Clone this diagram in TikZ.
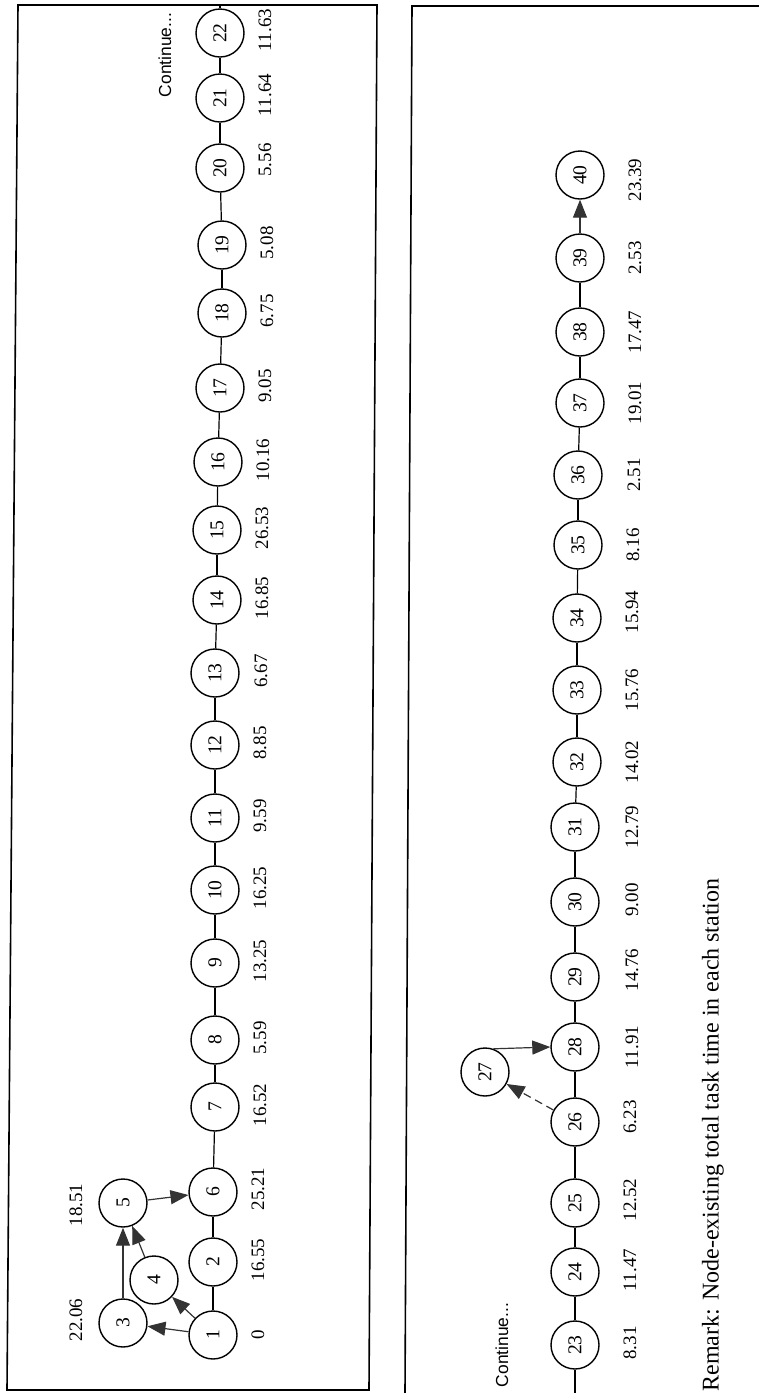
\documentclass[tikz,border=0pt]{standalone}
\usepackage{fontspec}
\setmainfont{Liberation Serif}
\newfontfamily\contfont{Liberation Sans}
\usetikzlibrary{arrows.meta}
\tikzset{
  stn/.style={draw,circle,minimum size=24pt,inner sep=0pt,line width=0.7pt,rotate=90,font=\fontsize{9.8}{11}\selectfont},
  tm/.style={rotate=90,inner sep=0pt,font=\fontsize{9.5}{11}\selectfont},
  link/.style={line width=0.6pt},
  arr/.style={-{Triangle[length=9pt,width=7pt]},line width=0.6pt,black!80},
  dasharr/.style={arr,dash pattern=on 4pt off 2.5pt},
  frame/.style={draw,line width=0.8pt},
  cont/.style={rotate=90,inner sep=0pt,font=\contfont\fontsize{8.7}{10}\selectfont},
  remark/.style={rotate=90,inner sep=0pt,anchor=west,font=\fontsize{12}{14}\selectfont},
}

\begin{document}
\begin{tikzpicture}[x=0.5pt,y=-0.5pt]
  \useasboundingbox (0,0) rectangle (759,1393);

  % frames
  \draw[frame] (18,5) -- (377,5) -- (369,1390) -- (7,1390) -- cycle;
  \draw[frame] (405,1393) -- (412,6) -- (759,6);

  % PANEL 1: stations 1-22
  \node[stn] (n1)  at (213,1335) {1};
  \node[stn] (n2)  at (213,1262) {2};
  \node[stn] (n3)  at (123,1323) {3};
  \node[stn] (n4)  at (154,1280) {4};
  \node[stn] (n5)  at (123,1203) {5};
  \node[stn] (n6)  at (213,1192) {6};
  \node[stn] (n7)  at (215,1107) {7};
  \node[stn] (n8)  at (215,1040) {8};
  \node[stn] (n9)  at (215,963)  {9};
  \node[stn] (n10) at (215,890)  {10};
  \node[stn] (n11) at (215,818)  {11};
  \node[stn] (n12) at (215,745)  {12};
  \node[stn] (n13) at (215,673)  {13};
  \node[stn] (n14) at (217,600)  {14};
  \node[stn] (n15) at (217,530)  {15};
  \node[stn] (n16) at (218,462)  {16};
  \node[stn] (n17) at (220,388)  {17};
  \node[stn] (n18) at (222,313)  {18};
  \node[stn] (n19) at (222,245)  {19};
  \node[stn] (n20) at (220,168)  {20};
  \node[stn] (n21) at (220,98)   {21};
  \node[stn] (n22) at (220,33)   {22};
  \coordinate (top1) at (220,5);

  \node[tm] (t1)  at (258,1335) {0};
  \node[tm] (t2)  at (258,1260) {16.55};
  \node[tm] (t3)  at (76,1320)  {22.06};
  \node[tm] (t5)  at (76,1205)  {18.51};
  \node[tm] (t6)  at (258,1189) {25.21};
  \node[tm] (t7)  at (260,1105) {16.52};
  \node[tm] (t8)  at (260,1038) {5.59};
  \node[tm] (t9)  at (260,961)  {13.25};
  \node[tm] (t10) at (260,888)  {16.25};
  \node[tm] (t11) at (260,816)  {9.59};
  \node[tm] (t12) at (260,743)  {8.85};
  \node[tm] (t13) at (261,671)  {6.67};
  \node[tm] (t14) at (262,598)  {16.85};
  \node[tm] (t15) at (262,528)  {26.53};
  \node[tm] (t16) at (263,460)  {10.16};
  \node[tm] (t17) at (265,386)  {9.05};
  \node[tm] (t18) at (267,311)  {6.75};
  \node[tm] (t19) at (267,243)  {5.08};
  \node[tm] (t20) at (265,160)  {5.56};
  \node[tm] (t21) at (265,95)   {11.64};
  \node[tm] (t22) at (265,30)   {11.63};
  \node[cont] (c1) at (165,55)  {Continue...};

  \draw[arr] (n1) -- (n3);
  \draw[arr] (n1) -- (n4);
  \draw[arr] (n3) -- (n5);
  \draw[arr] (n4) -- (n5);
  \draw[arr] (n5) -- (n6);
  \draw[link] (n1) -- (n2);
  \draw[link] (n2) -- (n6);
  \draw[link] (n6) -- (n7);
  \draw[link] (n7) -- (n8);
  \draw[link] (n8) -- (n9);
  \draw[link] (n9) -- (n10);
  \draw[link] (n10) -- (n11);
  \draw[link] (n11) -- (n12);
  \draw[link] (n12) -- (n13);
  \draw[link] (n13) -- (n14);
  \draw[link] (n14) -- (n15);
  \draw[link] (n15) -- (n16);
  \draw[link] (n16) -- (n17);
  \draw[link] (n17) -- (n18);
  \draw[link] (n18) -- (n19);
  \draw[link] (n19) -- (n20);
  \draw[link] (n20) -- (n21);
  \draw[link] (n21) -- (n22);
  \draw[link] (n22) -- (top1);

  % PANEL 2: stations 23-40
  \coordinate (bot2) at (575,1393);
  \node[stn] (n23) at (575,1345) {23};
  \node[stn] (n24) at (575,1272) {24};
  \node[stn] (n25) at (575,1203) {25};
  \node[stn] (n26) at (575,1122) {26};
  \node[stn] (n27) at (485,1072) {27};
  \node[stn] (n28) at (575,1047) {28};
  \node[stn] (n29) at (575,977)  {29};
  \node[stn] (n30) at (575,902)  {30};
  \node[stn] (n31) at (575,827)  {31};
  \node[stn] (n32) at (577,762)  {32};
  \node[stn] (n33) at (577,690)  {33};
  \node[stn] (n34) at (577,618)  {34};
  \node[stn] (n35) at (578,545)  {35};
  \node[stn] (n36) at (578,475)  {36};
  \node[stn] (n37) at (580,403)  {37};
  \node[stn] (n38) at (580,332)  {38};
  \node[stn] (n39) at (580,258)  {39};
  \node[stn] (n40) at (580,175)  {40};

  \node[tm] (t23) at (630,1343) {8.31};
  \node[tm] (t24) at (630,1270) {11.47};
  \node[tm] (t25) at (630,1200) {12.52};
  \node[tm] (t26) at (630,1117) {6.23};
  \node[tm] (t28) at (632,1047) {11.91};
  \node[tm] (t29) at (632,970)  {14.76};
  \node[tm] (t30) at (632,900)  {9.00};
  \node[tm] (t31) at (632,827)  {12.79};
  \node[tm] (t32) at (632,762)  {14.02};
  \node[tm] (t33) at (632,690)  {15.76};
  \node[tm] (t34) at (632,612)  {15.94};
  \node[tm] (t35) at (633,545)  {8.16};
  \node[tm] (t36) at (634,475)  {2.51};
  \node[tm] (t37) at (635,403)  {19.01};
  \node[tm] (t38) at (635,332)  {17.47};
  \node[tm] (t39) at (635,258)  {2.53};
  \node[tm] (t40) at (635,180)  {23.39};
  \node[cont] (c2) at (502,1345) {Continue...};
  \node[remark] (rem) at (713,1392) {Remark: Node-existing total task time in each station};

  \draw[link] (bot2) -- (n23);
  \draw[link] (n23) -- (n24);
  \draw[link] (n24) -- (n25);
  \draw[link] (n25) -- (n26);
  \draw[link] (n26) -- (n28);
  \draw[dasharr] (n26) -- (n27);
  \draw[arr] (n27.-20) -- (n28.north);
  \draw[link] (n28) -- (n29);
  \draw[link] (n29) -- (n30);
  \draw[link] (n30) -- (n31);
  \draw[link] (n31) -- (n32);
  \draw[link] (n32) -- (n33);
  \draw[link] (n33) -- (n34);
  \draw[link] (n34) -- (n35);
  \draw[link] (n35) -- (n36);
  \draw[link] (n36) -- (n37);
  \draw[link] (n37) -- (n38);
  \draw[link] (n38) -- (n39);
  \draw[arr] (n39) -- (n40);

\end{tikzpicture}
\end{document}
